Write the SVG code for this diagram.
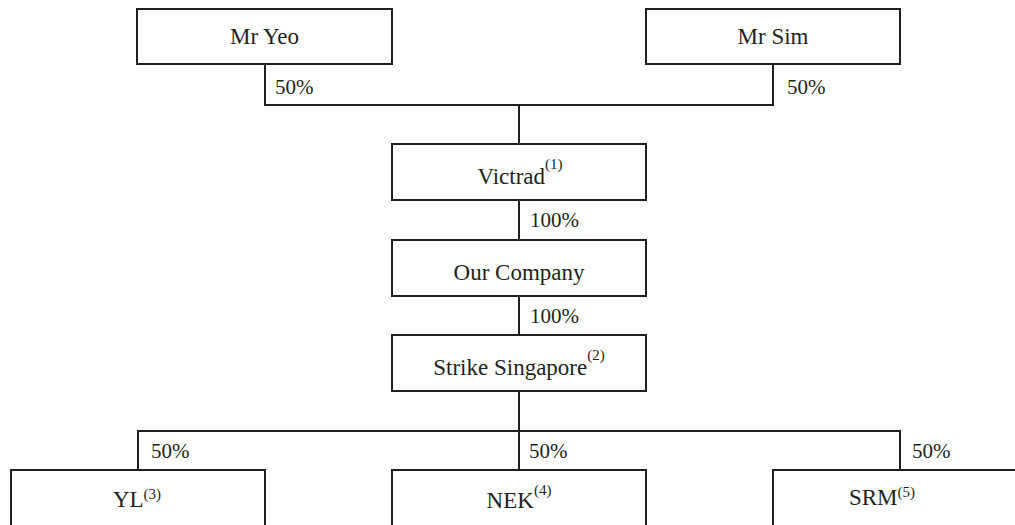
<svg xmlns="http://www.w3.org/2000/svg" width="1015" height="525" viewBox="0 0 1015 525">
<style>
.box{fill:#fff;stroke:#231f20;stroke-width:2}
.ln{fill:none;stroke:#231f20;stroke-width:2}
.t{font-family:"Liberation Serif","Times New Roman",serif;font-size:23px;fill:#231f20;text-anchor:middle}
.p{font-family:"Liberation Serif","Times New Roman",serif;font-size:21px;fill:#231f20}
.s{font-size:15px}
</style>
<rect width="1015" height="525" fill="#fff"/>
<g id="connectors">
<path class="ln" d="M265 64V105H773V64M519 105V144M519 200V240M519 296V335M519 391V431M138 470V431H900V470M519 431V470"/>
<text class="p" x="275" y="94">50%</text>
<text class="p" x="787" y="94">50%</text>
<text class="p" x="530" y="227">100%</text>
<text class="p" x="530" y="323">100%</text>
<text class="p" x="151" y="458">50%</text>
<text class="p" x="529" y="458">50%</text>
<text class="p" x="912" y="458">50%</text>
</g>
<g id="mr-yeo"><rect class="box" x="137" y="9" width="255" height="55"/><text class="t" x="264.5" y="44">Mr Yeo</text></g>
<g id="mr-sim"><rect class="box" x="646" y="9" width="254" height="55"/><text class="t" x="773" y="44">Mr Sim</text></g>
<g id="victrad"><rect class="box" x="392" y="144" width="254" height="56"/><text class="t" x="520" y="184">Victrad<tspan class="s" dy="-15">(1)</tspan></text></g>
<g id="our-company"><rect class="box" x="392" y="240" width="254" height="56"/><text class="t" x="519" y="280">Our Company</text></g>
<g id="strike-singapore"><rect class="box" x="392" y="335" width="254" height="56"/><text class="t" x="519" y="375">Strike Singapore<tspan class="s" dy="-15">(2)</tspan></text></g>
<g id="yl"><rect class="box" x="11" y="470" width="254" height="60"/><text class="t" x="137" y="507">YL<tspan class="s" dy="-8">(3)</tspan></text></g>
<g id="nek"><rect class="box" x="392" y="470" width="254" height="60"/><text class="t" x="519" y="508">NEK<tspan class="s" dy="-13">(4)</tspan></text></g>
<g id="srm"><rect class="box" x="773" y="470" width="254" height="60"/><text class="t" x="882" y="505">SRM<tspan class="s" dy="-8">(5)</tspan></text></g>
</svg>
